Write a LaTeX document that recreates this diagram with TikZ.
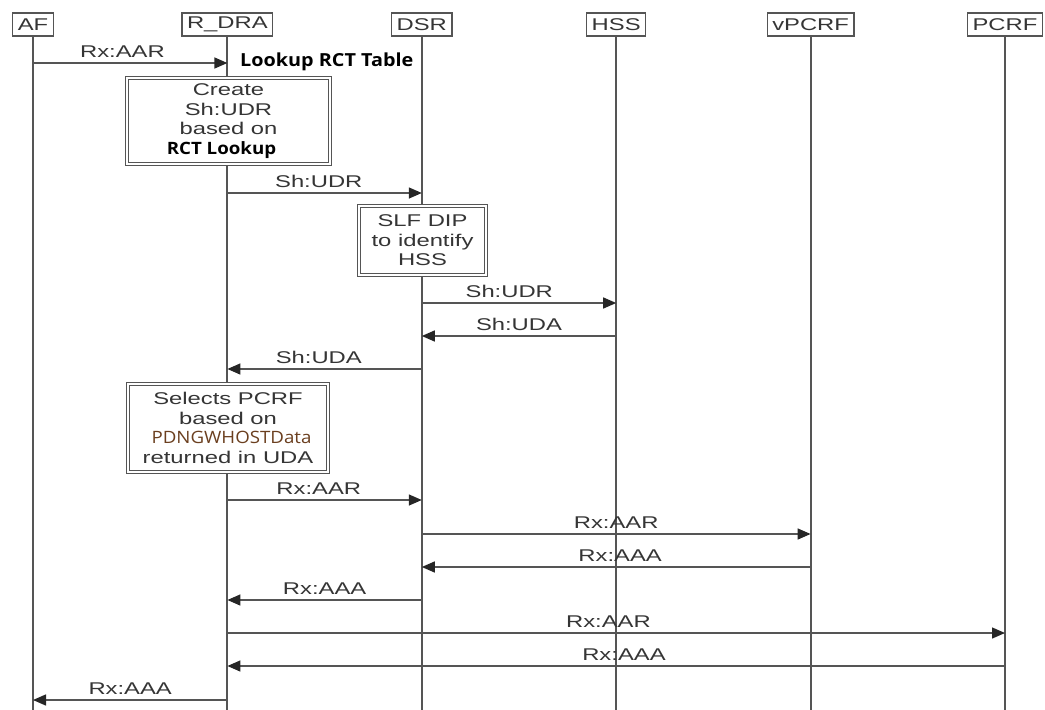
\documentclass[tikz,border=0pt]{standalone}
\usepackage{fontspec}
\setmainfont{Liberation Sans}[FakeStretch=1.4]
\newfontfamily\lookfont{Open Sans}[FakeStretch=1.1]
\usetikzlibrary{positioning,arrows.meta}
\definecolor{linegray}{HTML}{555555}
\definecolor{textgray}{HTML}{353535}
\definecolor{databrown}{HTML}{6B3F1F}
\tikzset{
  actor/.style={draw=linegray, line width=1.2pt, inner sep=0pt, inner xsep=5pt, minimum height=23pt,
    text=textgray, font=\fontsize{17}{19}\selectfont},
  life/.style={draw=linegray, line width=2pt},
  msg/.style={draw=linegray, line width=1.4pt, -{Triangle[length=13pt,width=11pt,color=black!85]}},
  lbl/.style={text=textgray, font=\fontsize{17}{19}\selectfont, above=5pt, inner sep=0pt},
  actbox/.style={draw=linegray, line width=1.2pt, double=white, double distance=1.8pt,
    fill=white, align=center, text=textgray, font=\fontsize{17}{19.5}\selectfont}
}
% message between two lifelines at height y
\newcommand{\msgline}[5][0.5]{\draw[msg] (#2 |- 0,#4) -- node[lbl, pos=#1] {#5} (#3 |- 0,#4);}

\begin{document}
\begin{tikzpicture}[x=1pt, y=-1pt, node distance=194.4pt]
  \useasboundingbox (0,0) rectangle (1045,710);

  \node[actor] (1) at (33,24.5) {AF};
  \node[actor] (2) [right of=1] {R\_DRA};
  \node[actor] (3) [right of=2] {DSR};
  \node[actor] (4) [right of=3] {HSS};
  \node[actor] (5) [right of=4] {vPCRF};
  \node[actor] (6) [right of=5] {PCRF};

  \coordinate (1e) at (1 |- 0,712);
  \coordinate (2e) at (2 |- 0,712);
  \coordinate (3e) at (3 |- 0,712);
  \coordinate (4e) at (4 |- 0,712);
  \coordinate (5e) at (5 |- 0,712);
  \coordinate (6e) at (6 |- 0,712);

  \path[life]
    (1) edge (1e)
    (2) edge (2e)
    (3) edge (3e)
    (4) edge (4e)
    (5) edge (5e)
    (6) edge (6e);

  \msgline[0.46]{1}{2}{63}{Rx:AAR}
  \node[anchor=base west, inner sep=0pt, font=\lookfont\bfseries\fontsize{18}{20}\selectfont] (lookup) at (240,66) {Lookup RCT Table};

  \node[actbox, minimum width=203pt, minimum height=86pt] (b1) at (228.5,121)
    {Create\\Sh:UDR\\based on\\{\color{black}\lookfont\bfseries\fontsize{17}{19.5}\selectfont RCT Lookup}\hspace*{14pt}};

  \msgline[0.47]{2}{3}{193}{Sh:UDR}

  \node[actbox, minimum width=127pt, minimum height=69pt] (b2) at (422.5,240.5)
    {SLF DIP\\to identify\\HSS};

  \msgline[0.45]{3}{4}{303}{Sh:UDR}
  \msgline[0.5]{4}{3}{336}{Sh:UDA}
  \msgline[0.53]{3}{2}{369}{Sh:UDA}

  \node[actbox, minimum width=200pt, minimum height=88pt] (b3) at (228,428)
    {Selects PCRF\\based on\\\hspace*{7pt}{\color{databrown}\lookfont\fontsize{17}{19.5}\selectfont PDNGWHOSTData}\\returned in UDA};

  \msgline[0.47]{2}{3}{500}{Rx:AAR}
  \msgline[0.5]{3}{5}{534}{Rx:AAR}
  \msgline[0.49]{5}{3}{567}{Rx:AAA}
  \msgline[0.5]{3}{2}{600}{Rx:AAA}
  \msgline[0.49]{2}{6}{633}{Rx:AAR}
  \msgline[0.49]{6}{2}{666}{Rx:AAA}
  \msgline[0.5]{2}{1}{700}{Rx:AAA}
\end{tikzpicture}
\end{document}
